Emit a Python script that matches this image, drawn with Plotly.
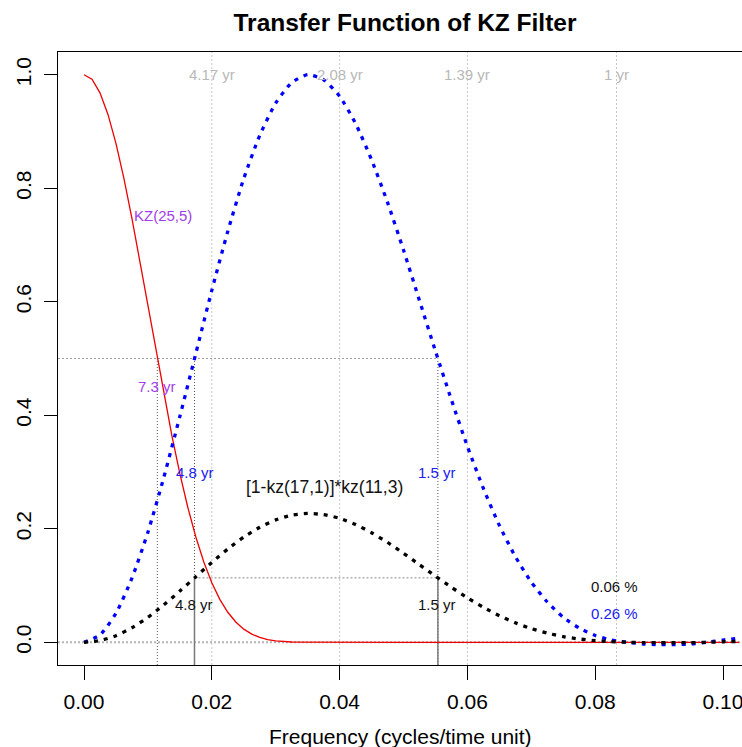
import plotly.graph_objects as go

# frequency grid (cycles / month) and the transfer curves
freq = [0.0, 0.0025, 0.005, 0.0075, 0.01, 0.0125, 0.015, 0.0175, 0.02, 0.0225,
        0.025, 0.0275, 0.03, 0.0325, 0.035, 0.0375, 0.04, 0.0425, 0.045, 0.0475,
        0.05, 0.0525, 0.055, 0.0575, 0.06, 0.0625, 0.065, 0.0675, 0.07, 0.0725,
        0.075, 0.0775, 0.08, 0.0825, 0.085, 0.0875, 0.09, 0.0925, 0.095, 0.0975,
        0.1, 0.1025]
band = [0.0, 0.003, 0.0116, 0.0256, 0.044, 0.066, 0.0903, 0.1156, 0.1407, 0.1644,
        0.1853, 0.2027, 0.2157, 0.2239, 0.227, 0.225, 0.2184, 0.2075, 0.1930, 0.1759,
        0.1568, 0.1367, 0.1165, 0.0968, 0.0784, 0.0616, 0.0469, 0.0343, 0.0241, 0.0161,
        0.0100, 0.0058, 0.003, 0.0013, 0.0002, -0.0005, -0.0008, -0.0008, -0.0006, 0.0,
        0.001, 0.0015]
band_norm = [0.0, 0.013, 0.051, 0.113, 0.194, 0.291, 0.398, 0.509, 0.620, 0.724,
             0.817, 0.893, 0.950, 0.986, 1.0, 0.991, 0.962, 0.914, 0.850, 0.775,
             0.691, 0.602, 0.513, 0.427, 0.345, 0.271, 0.206, 0.151, 0.106, 0.071,
             0.044, 0.025, 0.012, 0.004, 0.0, -0.003, -0.004, -0.004, -0.003, 0.0,
             0.004, 0.007]

# KZ(25,5) on a finer grid
red_freq = [0.0, 0.00125, 0.0025, 0.00375, 0.005, 0.00625, 0.0075, 0.00875, 0.01, 0.01125,
            0.0125, 0.01375, 0.015, 0.01625, 0.0175, 0.01875, 0.02, 0.02125, 0.0225, 0.02375,
            0.025, 0.02625, 0.0275, 0.02875, 0.03, 0.03125, 0.0325, 0.03375, 0.035, 0.0375,
            0.04, 0.05, 0.06, 0.07, 0.08, 0.09, 0.1, 0.1025]
kz_25_5 = [1.0, 0.992, 0.968, 0.930, 0.879, 0.817, 0.747, 0.671, 0.592, 0.513,
           0.436, 0.364, 0.297, 0.2375, 0.1855, 0.1414, 0.1049, 0.0757, 0.0529, 0.0357,
           0.0232, 0.0144, 0.0085, 0.0047, 0.0025, 0.0012, 0.0005, 0.0002, 0.0001, 0.0,
           0.0, 0.0, 0.0, 0.0, 0.0, 0.0, 0.0, 0.0]

# half-power cut-offs
red_half = 0.01147
band_lo = 0.01729
band_hi = 0.05538
band_half = 0.1135

period_freqs = [0.02, 0.04, 0.06, 0.08333]
period_labels = ["4.17 yr", "2.08 yr", "1.39 yr", "1 yr"]

XMIN, XMAX = -0.00407, 0.10297
YMIN, YMAX = -0.04, 1.04

FONT = "Liberation Sans, Arial, sans-serif"

fig = go.Figure()

shapes = []
# gray period guides
for f in period_freqs:
    shapes.append(dict(type="line", xref="x", yref="paper", x0=f, x1=f, y0=0, y1=1,
                       line=dict(color="#c8c8c8", width=1, dash="2px,2px"), layer="below"))
shapes.append(dict(type="line", xref="paper", yref="y", x0=0, x1=1, y0=0, y1=0,
                   line=dict(color="#b4b4b4", width=2, dash="2px,2px"), layer="below"))
shapes.append(dict(type="line", xref="x", yref="y", x0=XMIN, x1=band_hi, y0=0.5, y1=0.5,
                   line=dict(color="#a0a0a0", width=1, dash="2px,2px"), layer="below"))
for f in [red_half, band_lo, band_hi]:
    shapes.append(dict(type="line", xref="x", yref="y", x0=f, x1=f, y0=YMIN, y1=0.5,
                       line=dict(color="#555555", width=1, dash="1px,2px"), layer="below"))
for f in [band_lo, band_hi]:
    shapes.append(dict(type="line", xref="x", yref="y", x0=f, x1=f, y0=YMIN, y1=band_half,
                       line=dict(color="#7a7a7a", width=1.5), layer="below"))
shapes.append(dict(type="line", xref="x", yref="y", x0=band_lo, x1=band_hi,
                   y0=band_half, y1=band_half,
                   line=dict(color="#8a8a8a", width=1, dash="2px,2px"), layer="below"))

fig.add_trace(go.Scatter(x=red_freq, y=kz_25_5, mode="lines", name="KZ(25,5)",
                         line=dict(color="#ee0000", width=1.3)))
fig.add_trace(go.Scatter(x=freq, y=band_norm, mode="lines", name="normalized",
                         line=dict(color="#0000ff", width=3.3, dash="4px,6px",
                                   shape="spline", smoothing=0.6)))
fig.add_trace(go.Scatter(x=freq, y=band, mode="lines", name="[1-kz(17,1)]*kz(11,3)",
                         line=dict(color="#000000", width=3.3, dash="4px,6px",
                                   shape="spline", smoothing=0.6)))

anns = []
for f, lab in zip(period_freqs, period_labels):
    anns.append(dict(x=f, y=1.0, text=lab, font=dict(color="#b8b8b8", size=15)))
purple = "#a040e8"
anns += [
    dict(x=0.0124, y=0.752, text="KZ(25,5)", font=dict(color=purple, size=15)),
    dict(x=0.01135, y=0.451, text="7.3 yr", font=dict(color=purple, size=15)),
    dict(x=0.0174, y=0.3, text="4.8 yr", font=dict(color="#2020ee", size=15)),
    dict(x=0.0553, y=0.3, text="1.5 yr", font=dict(color="#2020ee", size=15)),
    dict(x=0.0377, y=0.273, text="[1-kz(17,1)]*kz(11,3)", font=dict(color="#111111", size=17.5)),
    dict(x=0.0172, y=0.067, text="4.8 yr", font=dict(color="#111111", size=15)),
    dict(x=0.0552, y=0.067, text="1.5 yr", font=dict(color="#111111", size=15)),
    dict(x=0.083, y=0.099, text="0.06 %", font=dict(color="#111111", size=15)),
    dict(x=0.083, y=0.051, text="0.26 %", font=dict(color="#2020ee", size=15)),
]
for a in anns:
    a.update(xref="x", yref="y", showarrow=False, xanchor="center", yanchor="middle")
    a["font"]["family"] = FONT
anns.append(dict(xref="paper", yref="paper", x=0.5, y=-0.117, showarrow=False,
                 text="Frequency (cycles/time unit)", xanchor="center", yanchor="middle",
                 font=dict(family=FONT, size=21, color="black")))

fig.update_layout(
    width=742, height=747,
    margin=dict(l=58, r=0, t=52, b=82),
    paper_bgcolor="white", plot_bgcolor="white",
    showlegend=False,
    font=dict(family=FONT, color="black"),
    title=dict(text="<b>Transfer Function of KZ Filter</b>", x=405 / 742, xanchor="center",
               xref="container", yref="container", y=1 - 22 / 747, yanchor="middle",
               font=dict(family=FONT, size=24.5, color="black")),
    shapes=shapes,
    annotations=anns,
)
fig.update_xaxes(range=[XMIN, XMAX], tickvals=[0, 0.02, 0.04, 0.06, 0.08, 0.1],
                 tickformat=".2f", ticks="outside", ticklen=14, tickwidth=1.3,
                 tickcolor="black", showgrid=False, zeroline=False,
                 showline=True, linecolor="black", linewidth=1.3, mirror=True,
                 tickfont=dict(size=21), ticklabelstandoff=4,
                 ticklabeloverflow="allow", automargin=False)
fig.update_yaxes(range=[YMIN, YMAX], tickvals=[0, 0.2, 0.4, 0.6, 0.8, 1.0],
                 tickformat=".1f", ticks="outside", ticklen=13, tickwidth=1.3,
                 tickcolor="black", showgrid=False, zeroline=False,
                 showline=True, linecolor="black", linewidth=1.3,
                 tickangle=-90, tickfont=dict(size=21), ticklabelstandoff=4,
                 automargin=False)

fig.write_html("out.html", config={"displayModeBar": False},
               post_script="document.body.style.margin='0px';")
